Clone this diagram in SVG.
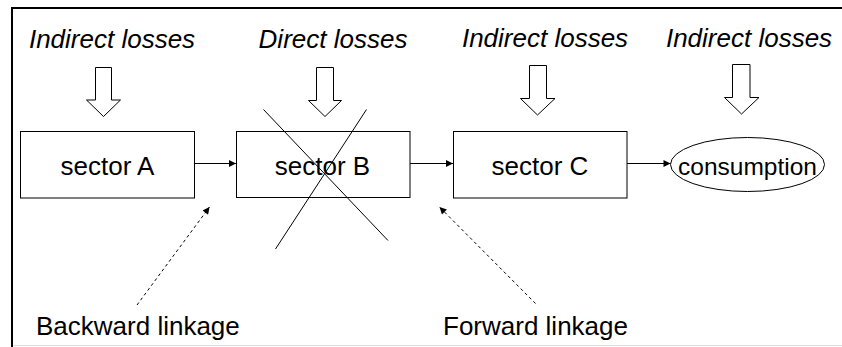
<svg xmlns="http://www.w3.org/2000/svg" width="842" height="347" viewBox="0 0 842 347">
  <style>
    .label { font-family: "Liberation Sans", Arial, sans-serif; font-size: 26px; fill: #000; }
    .loss { font-style: italic; text-anchor: middle; }
    .mid { text-anchor: middle; }
    .small { font-size: 24.5px; }
    .box { fill: #fff; stroke: #000; stroke-width: 1; }
    .block { fill: #fff; stroke: #000; stroke-width: 1; stroke-linejoin: miter; }
    .link { stroke: #000; stroke-width: 1; fill: none; }
    .dash { stroke: #000; stroke-width: 1; fill: none; stroke-dasharray: 3 3; }
  </style>
  <defs>
    <marker id="head" viewBox="0 0 10 10" refX="10" refY="5" markerWidth="9" markerHeight="7" markerUnits="userSpaceOnUse" orient="auto">
      <path d="M0,0 L10,5 L0,10 Z" fill="#000"/>
    </marker>
  </defs>

  <rect width="842" height="347" fill="#fff"/>

  <!-- frame -->
  <g id="frame">
    <line x1="12" y1="8" x2="842" y2="8" stroke="#000" stroke-width="2"/>
    <line x1="12" y1="7" x2="12" y2="347" stroke="#000" stroke-width="2"/>
    <line x1="13" y1="345.5" x2="842" y2="345.5" stroke="#dcdcdc" stroke-width="1"/>
  </g>

  <!-- loss labels with hollow block arrows -->
  <g id="loss-a">
    <text class="label loss" x="112" y="48">Indirect losses</text>
    <path class="block" d="M95.5,67.5 H111.5 V100 H120.5 L103.5,116.5 L86.5,100 H95.5 Z"/>
  </g>
  <g id="loss-b">
    <text class="label loss" x="333" y="48">Direct losses</text>
    <path class="block" d="M316.5,67.5 H333.5 V100.5 H341.5 L325,116.5 L308.5,100.5 H316.5 Z"/>
  </g>
  <g id="loss-c">
    <text class="label loss" x="545" y="47">Indirect losses</text>
    <path class="block" d="M529.5,65.5 H546.5 V98.5 H555 L537.5,115 L520.5,98.5 H529.5 Z"/>
  </g>
  <g id="loss-consumption">
    <text class="label loss" x="749" y="47">Indirect losses</text>
    <path class="block" d="M732.5,64.5 H750 V97.5 H759 L741.5,114 L724.5,97.5 H732.5 Z"/>
  </g>

  <!-- sectors -->
  <g id="sector-a">
    <rect class="box" x="20.5" y="131.5" width="174" height="66.5"/>
    <text class="label mid" x="107.5" y="175">sector A</text>
  </g>
  <g id="sector-b">
    <rect class="box" x="236.5" y="131.5" width="173.5" height="66"/>
    <text class="label mid" x="322.5" y="175">sector B</text>
    <!-- strike-through cross -->
    <line class="link" x1="263.5" y1="109.5" x2="388" y2="240.5"/>
    <line class="link" x1="366.5" y1="109.5" x2="275.5" y2="249"/>
  </g>
  <g id="sector-c">
    <rect class="box" x="453.5" y="131.5" width="173.5" height="66.5"/>
    <text class="label mid" x="540" y="175">sector C</text>
  </g>
  <g id="consumption">
    <ellipse class="box" cx="747.5" cy="164.5" rx="77" ry="27"/>
    <text class="label mid small" x="747.5" y="175">consumption</text>
  </g>

  <!-- flows and linkages -->
  <g id="connectors">
    <line class="link" x1="194.5" y1="163.5" x2="236" y2="163.5" marker-end="url(#head)"/>
    <line class="link" x1="410" y1="163.5" x2="453" y2="163.5" marker-end="url(#head)"/>
    <line class="link" x1="627" y1="163.5" x2="670.5" y2="163.5" marker-end="url(#head)"/>
    <line class="dash" x1="137" y1="305" x2="209.5" y2="207" marker-end="url(#head)"/>
    <line class="dash" x1="535.5" y1="303.5" x2="439.5" y2="207" marker-end="url(#head)"/>
  </g>

  <g id="linkage-labels">
    <text class="label" x="36" y="335">Backward linkage</text>
    <text class="label" x="443" y="335">Forward linkage</text>
  </g>
</svg>
